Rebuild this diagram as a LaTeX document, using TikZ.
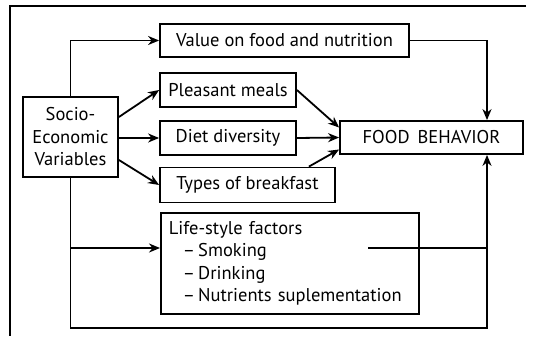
\documentclass[tikz,border=0pt]{standalone}
\usepackage{fontspec}
\setmainfont{PT Sans}
\usetikzlibrary{arrows.meta}
\tikzstyle{box}=[draw,line width=1.8pt,inner sep=0pt,minimum height=34pt]
\tikzstyle{feed}=[-{Stealth[length=11pt,width=9pt,inset=3.5pt]},line width=1.8pt]
\tikzstyle{wire}=[line width=1.8pt]

\begin{document}
\begin{tikzpicture}[x=1pt,y=-1pt,font=\fontsize{18.5}{22.5}\selectfont]
\useasboundingbox (0,0) rectangle (534,337);

%%% Frame

\draw [wire] (526,6) -- (10,6) -- (10,336);

%%% Boxes

\node [box,minimum width=95pt,minimum height=80pt,align=center]
(socio) at (70.5,137) {Socio-\\Economic\\Variables};

\node [box,minimum width=249pt,minimum height=33pt]
(value) at (284.5,40.5) {Value on food and nutrition};

\node [box,minimum width=136pt]
(pleasant) at (228,90) {Pleasant meals};

\node [box,minimum width=136pt]
(diet) at (228,138) {Diet diversity};

\node [box,minimum width=175pt,minimum height=35pt]
(types) at (247.5,185) {Types of breakfast};

\node [box,minimum width=183pt,minimum height=33pt]
(food) at (431.5,137.5) {FOOD\, BEHAVIOR};

\node [box,minimum width=258pt,minimum height=101pt,anchor=north west,
inner xsep=8pt,text width=242pt,align=left]
(life) at (160,212) {Life-style factors\\
\hspace*{14pt}--\,Smoking\\
\hspace*{14pt}--\,Drinking\\
\hspace*{14pt}--\,Nutrients\ suplementation};

%%% Helper points

\coordinate (rgt) at (487,0);
\coordinate (bot) at (0,328);
\coordinate (lvl) at (0,248);
\coordinate (tap) at (368,248);

%%% Arrows out of Socio-Economic Variables

\draw [feed] (socio.north) |- (value.west);
\draw [feed] ([yshift=20pt]socio.east) -- (pleasant.west);
\draw [feed] (socio.east |- diet.west) -- (diet.west);
\draw [feed] ([yshift=-23pt]socio.east) -- (types.west);
\draw [feed] (socio.south |- lvl) -- (life.west |- lvl);
\draw [feed] (socio.south) -- (socio.south |- bot) -| (food.south -| rgt);

%%% Arrows into Food Behavior

\draw [feed] (value.east) -| (food.north -| rgt);
\draw [feed] (pleasant.east) -- ([yshift=10pt]food.west);
\draw [feed] (diet.east) -- (food.west);
\draw [feed] ([xshift=-27pt]types.north east) -- ([yshift=-12pt]food.west);
\draw [wire] (tap) -- (rgt |- lvl);

\end{tikzpicture}
\end{document}
